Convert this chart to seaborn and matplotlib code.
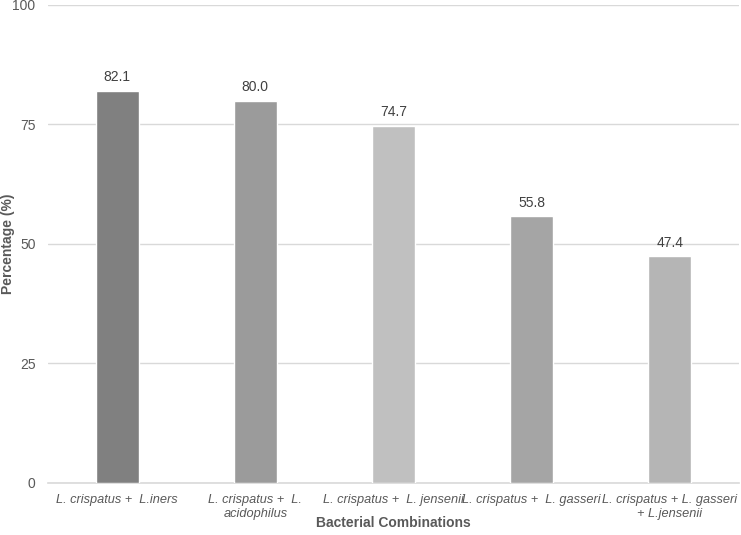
import pandas as pd
import numpy as np
import seaborn as sns
from matplotlib import pyplot as plt

# data
combos = ["L. crispatus +  L.iners", "L. crispatus +  L.\nacidophilus",
          "L. crispatus +  L. jensenii", "L. crispatus +  L. gasseri",
          "L. crispatus + L. gasseri\n+ L.jensenii"]
percent = [82.1, 80.0, 74.7, 55.8, 47.4]
bar_colors = ["#808080", "#9b9b9b", "#c0c0c0", "#a5a5a5", "#b5b5b5"]
yticks = [0, 25, 50, 75, 100]

df = pd.DataFrame({"combo": combos, "pct": percent})

sns.set_style("white")
plt.rcParams['font.family'] = ['Liberation Sans', 'DejaVu Sans']

fig = plt.figure(figsize=(7.41, 5.35), dpi=100)
ax = fig.add_axes([0.0648, 0.0972, 0.9325, 0.8935])

sns.barplot(data=df, x="combo", y="pct", hue="combo", palette=bar_colors,
            legend=False, width=0.31, ax=ax, zorder=3)

# value labels above bars
for i, v in enumerate(percent):
    ax.text(i, v + 1.4, f"{v:.1f}", ha="center", va="bottom", fontsize=10, color="#404040")

ax.set_ylim(0, 100)
ax.set_xlim(-0.5, 4.5)
ax.set_yticks(yticks)
ax.yaxis.grid(True, color="#d9d9d9", linewidth=1, zorder=0)
for s in ["top", "right", "left"]:
    ax.spines[s].set_visible(False)
ax.spines["bottom"].set_color("#d9d9d9")
ax.spines["bottom"].set_linewidth(1.2)
ax.tick_params(axis="y", length=0, colors="#595959", labelsize=10, pad=9)
ax.tick_params(axis="x", length=0, colors="#595959", labelsize=9.2, pad=8)
for lbl in ax.get_xticklabels():
    lbl.set_fontstyle("italic")

ax.set_xlabel("")
ax.set_ylabel("")
fig.text(0.531, 1 - 523 / 535, "Bacterial Combinations", ha="center", va="center",
         fontsize=10, fontweight="bold", color="#595959")
fig.text(8 / 741, 1 - 244 / 535, "Percentage (%)", ha="center", va="center", rotation=90,
         fontsize=10, fontweight="bold", color="#595959")

plt.savefig("out.png", dpi=100)
